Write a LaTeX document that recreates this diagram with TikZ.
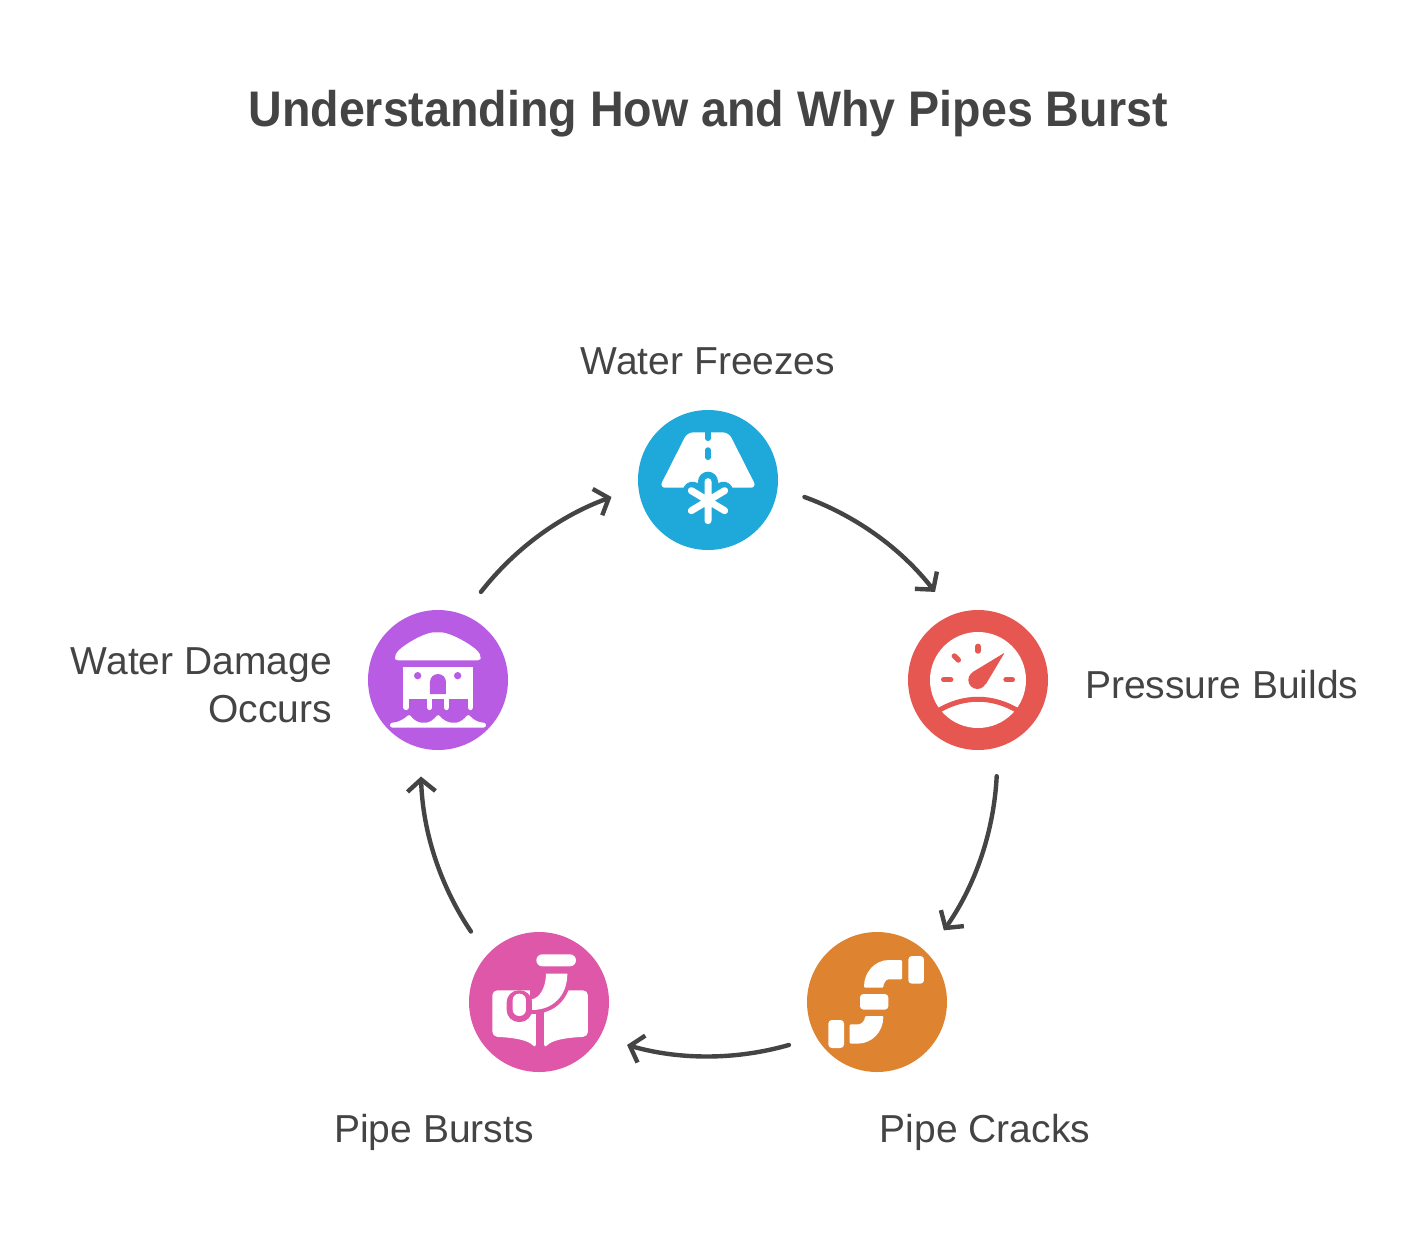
\documentclass[tikz,border=0pt]{standalone}
\usepackage{fontspec}
\setmainfont{Liberation Sans}
\newfontfamily\titlefont[FakeStretch=0.932]{Liberation Sans Bold}
\usepackage{xcolor}
\usetikzlibrary{arrows.meta, positioning}
\definecolor{inkgray}{HTML}{444444}
\definecolor{iceblue}{HTML}{1FA9DB}
\definecolor{gaugered}{HTML}{E65751}
\definecolor{pipeorange}{HTML}{DE8330}
\definecolor{burstpink}{HTML}{DF57A9}
\definecolor{floodpurple}{HTML}{B85CE3}

\begin{document}
\begin{tikzpicture}[
    x=1pt, y=-1pt,
    badge/.style={circle, inner sep=0pt, minimum size=140pt, outer sep=28pt},
    label/.style={text=inkgray, font=\fontsize{39}{48}\selectfont, inner sep=0pt},
    arrow/.style={-{Straight Barb[length=12pt, width=28pt, line width=4.4pt]}, line width=4.4pt, draw=inkgray, line cap=round},
    icon/.style={x=0.3333pt, y=-0.3333pt},
    tick/.style={line width=5.4pt, line cap=round}
]
\useasboundingbox (0,0) rectangle (1416,1248);

% Title
\node[text=inkgray, font=\fontsize{50}{58}\titlefont, inner sep=0pt, anchor=base] (title) at (708,126) {Understanding How and Why Pipes Burst};

% Nodes
\node[badge, fill=iceblue] (freezes) at (708,480) {};
\node[badge, fill=gaugered] (pressure) at (978,680) {};
\node[badge, fill=pipeorange] (cracks) at (877,1002) {};
\node[badge, fill=burstpink] (bursts) at (539,1002) {};
\node[badge, fill=floodpurple] (damage) at (438,680) {};

% Labels
\node[label, anchor=base] (freezeslabel) at (708,374) {Water Freezes};
\node[label, anchor=base west] (pressurelabel) at (1085,698) {Pressure Builds};
\node[label, anchor=base] (crackslabel) at (985,1142) {Pipe Cracks};
\node[label, anchor=base] (burstslabel) at (434,1142) {Pipe Bursts};
\node[label, anchor=east, align=right] (damagelabel) at (332,685) {Water Damage\\Occurs};

% Edges
\draw[arrow] (freezes.-10) to[bend left=16, looseness=.87] (pressure.116);
\draw[arrow] (pressure.-79) to[bend left=16, looseness=.87] (cracks.47);
\draw[arrow] (cracks.206) to[bend left=16, looseness=.87] (bursts.-26);
\draw[arrow] (bursts.134) to[bend left=16, looseness=.87] (damage.-100);
\draw[arrow] (damage.64) to[bend left=16, looseness=.87] (freezes.190);

% Icon: road and snowflake
\begin{scope}[shift={(630,400)}, icon]
\fill[white, rounded corners=6pt] (172,97) -- (296,97) -- (380,263) -- (88,263) -- cycle;
\draw[iceblue, tick] (234,90) -- (234,115) (234,150) -- (234,172);
\draw[iceblue, line width=20pt, line cap=round] (234,245) -- (234,360) (188,275) -- (280,330) (280,275) -- (188,330);
\draw[white, line width=7pt, line cap=round] (234,245) -- (234,362) (184,272) -- (284,332) (284,272) -- (184,332);
\end{scope}

% Icon: gauge
\begin{scope}[shift={(900,600)}, icon]
\fill[white] (234,240) circle (144);
\draw[gaugered, line width=5pt] (108,336) .. controls (190,285) and (278,285) .. (360,336);
\draw[gaugered, tick] (234,139) -- (234,153);
\draw[gaugered, tick] (163,168) -- (175,180);
\draw[gaugered, tick] (131,239) -- (152,239);
\draw[gaugered, tick] (318,239) -- (337,239);
\fill[gaugered, rounded corners=1pt] (314,158) -- (215,218) -- (256,255) -- cycle;
\fill[gaugered] (232,240) circle (27);
\end{scope}

% Icon: broken pipe
\begin{scope}[shift={(800,922)}, icon]
\fill[white, rounded corners=3.5pt] (325,102) rectangle (372,185);
\fill[white, rounded corners=3.5pt] (180,216) rectangle (265,263);
\fill[white, rounded corners=3.5pt] (85,294) rectangle (132,378);
\fill[white, rounded corners=1pt] (192,197) .. controls (192,150) and (225,114) .. (270,114) -- (306,114) -- (306,172) -- (268,172) .. controls (258,172) and (250,185) .. (250,197) -- cycle;
\fill[white, rounded corners=1pt] (250,282) .. controls (250,330) and (215,365) .. (170,365) -- (149,365) -- (149,307) -- (172,307) .. controls (185,307) and (195,295) .. (195,282) -- cycle;
\end{scope}

% Icon: pipe over book
\begin{scope}[shift={(460,922)}, icon]
\fill[white, rounded corners=5pt] (97,205) -- (228,205) -- (228,381) .. controls (205,355) and (165,347) .. (97,344) -- cycle;
\fill[white, rounded corners=5pt] (384,205) -- (252,205) -- (252,381) .. controls (275,355) and (315,347) .. (384,344) -- cycle;
\fill[burstpink] (228,270) rectangle (252,381);
\fill[burstpink] (210,150) rectangle (300,230);
\draw[burstpink, line width=8pt] (258,155) .. controls (258,195) and (240,228) .. (215,232) -- (215,264) .. controls (280,264) and (322,220) .. (322,155) -- cycle;
\fill[white] (258,155) .. controls (258,195) and (240,228) .. (215,232) -- (215,264) .. controls (280,264) and (322,220) .. (322,155) -- cycle;
\fill[burstpink, rounded corners=12pt] (140,205) rectangle (216,300);
\fill[white, rounded corners=6.5pt] (158,215) rectangle (198,282);
\fill[white, rounded corners=6pt] (229,97) rectangle (348,133);
\end{scope}

% Icon: flooded house
\begin{scope}[shift={(360,600)}, icon]
\fill[white, rounded corners=3pt] (105,181) -- (105,172) .. controls (112,145) and (190,97) .. (232,97) .. controls (275,97) and (355,145) .. (362,172) -- (362,181) -- cycle;
\fill[white] (130,200) rectangle (340,298);
\draw[white, tick, line width=5.6pt] (138,298) -- (138,322) (209,298) -- (209,322) (259,298) -- (259,322) (331,298) -- (331,322);
\fill[floodpurple] (173,227) circle (11) (293,227) circle (11);
\fill[floodpurple] (210,282) -- (210,246) arc[start angle=180, end angle=360, radius=24] -- (258,282) -- cycle;
\fill[white, rounded corners=2.5pt] (90,383) -- (90,368) .. controls (115,368) and (135,355) .. (148,342) .. controls (160,360) and (175,368) .. (192,368) .. controls (208,368) and (222,358) .. (235,342) .. controls (248,360) and (265,368) .. (282,368) .. controls (298,368) and (312,358) .. (325,342) .. controls (338,358) and (355,368) .. (378,368) -- (378,383) -- cycle;
\end{scope}

\end{tikzpicture}
\end{document}
